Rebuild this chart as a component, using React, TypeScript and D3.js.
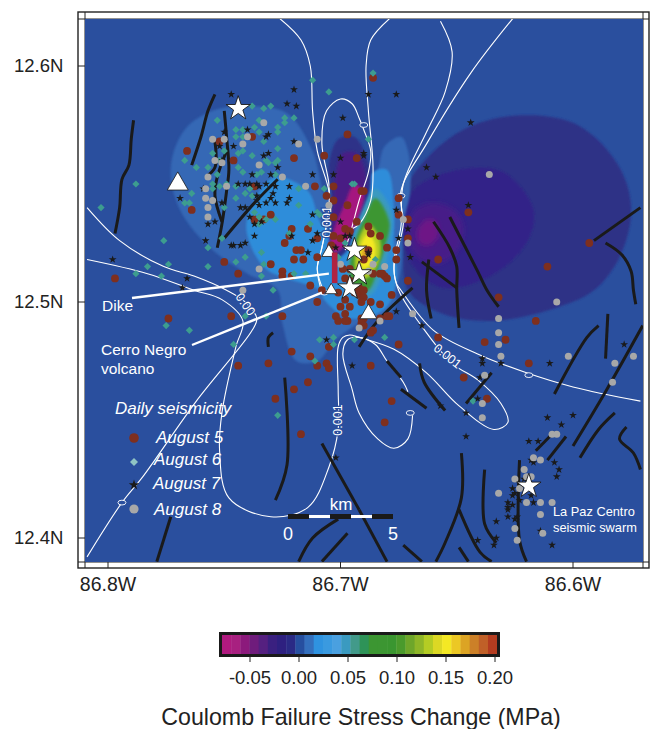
import React from "react";
import * as d3 from "d3";

// All map values are thousandths of a degree east of 86.8W (first) and south of 12.6N (second).
type P = number[];
const lonTicks = [86.8, 86.7, 86.6];
const latTicks = [12.6, 12.5, 12.4];
const barTicks = [-0.05, 0, 0.05, 0.1, 0.15, 0.2];
const barColors = ["#b01a7f","#a82080","#8c1a7c","#6f1c7c","#552080","#3a2080","#2e2080","#2a2a85","#264f9f","#3470bd","#2f93e0","#3a9ae0","#4aa0e0","#3a9ac0","#429a8a","#2e9358","#3c9632","#3c9632","#3a9630","#4a9a2c","#6ea62a","#8fb628","#b4cc24","#dcd824","#f4e824","#ecc824","#dca424","#cc8028","#c06028","#b43c20"];
const barMin = -0.0786, barStep = 0.00936;

const aug5: P[] = [[34,36],[62,30],[48,32],[54,40],[80,39],[93,38],[103,29],[107,39],[89,51],[97,51],[94,55],[97,57],[103,59],[36,61],[63,51],[63,65],[67,65],[70,63],[79,69],[86,69],[76,75],[81,78],[83,78],[80,82],[84,82],[90,81],[90,73],[97,64],[102,69],[107,66],[104,70],[50,83],[56,88],[70,84],[75,87],[75,89],[79,89],[87,93],[3,90],[96,76],[101,86],[104,86],[110,53],[112,68],[113,71],[117,72],[97,72],[100,73],[78,72],[120,77],[124,78],[124,82],[129,91],[117,88],[119,89],[120,90],[112,78],[110,82],[102,90],[104,91],[106,96],[108,97],[110,98],[113,100],[117,101],[99,96],[102,99],[100,102],[104,102],[109,100],[108,94],[110,95],[122,97],[121,106],[117,107],[110,107],[109,107],[109,109],[98,106],[99,108],[102,105],[103,108],[90,100],[92,95],[114,112],[125,63],[129,65],[114,5],[125,56],[129,73],[155,62],[142,82],[189,85],[207,75],[109,53],[118,88],[114,88],[26,107],[53,106],[75,106],[56,127],[79,121],[69,126],[87,123],[94,126],[90,127],[95,128],[86,134],[80,137],[72,141],[83,156],[102,108],[95,119],[168,98],[184,108],[162,117],[171,116],[181,126],[142,115],[125,118],[113,127],[113,113],[120,106],[153,132],[163,141],[122,142],[119,151],[110,110]];
const aug6: P[] = [[-3,60],[12,50],[24,74],[17,85],[12,88],[23,89],[26,84],[43,85],[43,77],[33,40],[38,43],[36,54],[33,58],[35,58],[47,23],[62,17],[67,18],[70,17],[65,23],[55,27],[58,27],[63,26],[65,28],[55,30],[58,30],[67,32],[73,26],[73,28],[76,22],[76,24],[80,22],[73,35],[45,37],[50,36],[48,40],[56,37],[58,36],[62,38],[68,40],[73,40],[69,41],[72,41],[43,43],[47,46],[56,43],[58,45],[66,45],[64,46],[72,46],[45,50],[51,50],[48,51],[45,52],[55,51],[61,52],[59,54],[62,55],[55,56],[50,60],[63,62],[65,64],[68,65],[72,65],[65,67],[82,52],[82,59],[91,63],[87,67],[78,71],[93,52],[88,6],[95,11],[106,50],[102,75],[49,73],[66,79],[59,81],[55,83],[67,84],[66,89],[71,95],[85,88],[80,88],[99,81],[114,3],[112,31],[25,110],[35,112],[59,106],[68,106],[54,118],[89,125],[91,116],[97,115],[97,118],[106,116],[73,148],[119,115],[157,142],[105,50],[115,82],[90,62]];
const aug7: P[] = [[53,12],[80,10],[77,16],[81,17],[101,22],[60,27],[69,29],[68,30],[50,28],[48,34],[54,34],[80,32],[69,37],[67,38],[49,40],[100,39],[73,43],[62,46],[88,46],[70,46],[97,46],[56,50],[59,50],[61,50],[64,50],[68,50],[72,51],[78,51],[65,51],[71,54],[64,55],[70,56],[78,56],[64,57],[68,58],[72,58],[77,58],[31,56],[41,52],[49,58],[57,60],[59,60],[65,59],[61,64],[88,63],[43,67],[46,66],[63,67],[66,66],[100,66],[79,72],[90,71],[42,74],[88,74],[102,72],[104,72],[63,72],[53,76],[54,76],[57,76],[59,75],[86,79],[98,77],[2,82],[34,90],[32,94],[110,38],[112,79],[112,12],[124,12],[156,24],[110,37],[137,43],[141,47],[155,59],[124,61],[129,69],[125,73],[130,81],[112,80],[94,116],[98,166],[105,127],[124,104],[135,110],[161,124],[161,126],[169,126],[190,126],[222,118],[160,132],[159,141],[154,147],[143,144],[154,157],[189,149],[195,152],[200,148],[181,159],[185,159],[182,167],[183,168],[192,168],[194,171],[193,174],[179,175],[174,179],[174,182],[175,181],[172,185],[174,186],[172,187],[172,188],[172,191],[176,191],[175,192],[177,184],[183,185],[167,193],[167,200],[159,201],[166,203],[186,197],[191,203],[182,182]];
const aug8: P[] = [[67,24],[60,30],[58,33],[50,31],[45,31],[82,33],[90,31],[46,40],[49,41],[65,42],[43,47],[51,51],[42,52],[42,56],[45,57],[43,60],[43,64],[75,47],[85,51],[95,59],[65,86],[58,95],[100,84],[127,65],[129,75],[119,85],[114,84],[112,87],[131,105],[117,108],[108,111],[164,46],[193,100],[168,107],[168,113],[168,118],[169,123],[162,131],[198,123],[218,126],[226,123],[217,134],[161,143],[161,149],[191,156],[193,156],[183,166],[186,167],[179,171],[175,175],[180,174],[182,174],[177,179],[168,181],[180,185],[186,185],[191,185],[186,190],[187,198],[175,196],[176,201],[176,212]];

const mainshocks: P[] = [[56,18],[106,78],[108,88],[104,94],[181,178]];
const volcanoes: { at: P; side: number }[] = [
  { at: [30, 50], side: 21 },
  { at: [95, 79], side: 14 },
  { at: [96, 95], side: 12 },
  { at: [112, 105], side: 17 },
];
const dike: P[] = [[97.5, 79], [97.5, 92]];

const faults: P[][] = [
  [[11,23],[10,31],[9,42],[6,48],[5,60],[3,71]],
  [[46,12],[43,19],[40,30],[36,42]],
  [[50,19],[51,30],[52,44],[51,53],[49,67],[47,77]],
  [[46,32],[46,43],[42,47]],
  [[51,36],[47,47],[46,55],[49,66]],
  [[73,48],[63,58],[50,73]],
  [[229,60],[209,74]],
  [[214,75],[221,80],[225,87],[226,95],[227,101]],
  [[140,66],[147,77],[150,85],[150,95],[151,111]],
  [[147,64],[159,87],[163,95],[168,102]],
  [[138,82],[137,95],[139,107]],
  [[135,83],[150,94]],
  [[131,94],[116,108],[108,119]],
  [[211,110],[206,115],[192,139]],
  [[215,105],[214,124]],
  [[230,110],[214,138],[200,161]],
  [[218,147],[211,154],[203,166]],
  [[223,153],[220,158],[226,164],[229,171]],
  [[165,130],[154,143]],
  [[192,155],[184,163]],
  [[197,157],[189,167]],
  [[177,167],[177,201],[180,210]],
  [[152,164],[152,183],[145,202],[141,210]],
  [[151,188],[160,206],[165,210]],
  [[162,171],[162,194],[167,202]],
  [[151,204],[155,210]],
  [[127,203],[135,210]],
  [[108,188],[120,210]],
  [[126,137],[137,145]],
  [[134,126],[136,134],[145,146]],
  [[120,125],[126,132]],
  [[71,113],[69,115],[69,119]],
  [[76,132],[77,169],[72,184]],
  [[92,160],[108,188]],
  [[27,191],[21,210]],
  [[99,192],[88,200],[82,210]],
  [[103,198],[92,210]],
];

const contourA: P[] = [[-9,60],[5,74],[24,85],[37,89],[51,95],[59,100],[64,107],[62,112],[38,142],[15,174],[6,185],[-9,208]];
const contourB: P[] = [[-9,82],[17,88],[37,95],[49,99],[58,108],[55,119],[49,147],[48,163],[52,183],[70,191],[86,187],[95,170],[99,154],[99,137],[99,119],[101,115],[104,114],[108,115],[123,120],[137,130],[151,144],[166,154],[172,151],[169,143],[159,133],[148,126],[134,109],[125,95],[123,86],[127,67],[126,53],[137,33],[156,3],[174,-20]];
const contourC: P[] = [[143,-19],[148,-6],[145,11],[137,28],[127,50],[126,68],[123,83],[124,92],[126,95],[140,112],[159,122],[180,130],[200,136],[229,142]];
const contourD: P[] = [[121,-20],[113,-11],[111,0],[112,19],[114,43],[113,57],[108,67],[105,69]];
const contourE: P[] = [[74,-20],[83,-11],[87,0],[88,19],[90,36],[95,53],[95,61],[92,77],[90,86],[93,96]];
const contourF: P[] = [[102,78],[105,68],[108,57],[112,45],[113,36],[110,27],[108,22],[105,16],[100,14],[94,19],[92,33],[95,50],[95,61],[92,77],[90,86],[92,96]];
const contourG: P[] = [[129,138],[127,134],[120,125],[115,118],[108,115],[103,116],[101,122],[105,137],[108,147],[116,158],[123,162],[129,158],[131,148]];
const contours = [contourA, contourB, contourC, contourD, contourE, contourF, contourG];
const contourRings: P[] = [[6,185],[110,25],[126,55],[181,131],[130,147],[93,96]];
const contourLabels: { at: P; text: string; angle: number }[] = [
  { at: [59, 101], text: "0.00", angle: 55 },
  { at: [94, 66], text: "0.001", angle: -90 },
  { at: [99, 150], text: "0.001", angle: -90 },
  { at: [146, 123], text: "0.001", angle: 38 },
];

const fieldLayers: { fill: string; blur: string; pts: P[] }[] = [
  { fill: "#2d3086", blur: "soft", pts: [[130,48],[151,28],[176,21],[202,25],[220,43],[225,61],[220,81],[209,95],[194,102],[166,108],[144,105],[129,95],[127,75],[126,61]] },
  { fill: "#332388", blur: "soft", pts: [[131,53],[151,44],[170,45],[183,61],[180,75],[166,88],[144,94],[130,83],[127,68]] },
  { fill: "#461f88", blur: "wide", pts: [[129,70],[132,61],[141,58],[150,62],[153,70],[149,80],[140,84],[132,80]] },
  { fill: "#6e1886", blur: "wide", pts: [[133,70],[137,65],[141,66],[142,72],[138,76],[134,75]] },
  { fill: "#3468b5", blur: "soft", pts: [[45,19],[61,17],[77,20],[88,36],[94,55],[100,46],[111,53],[116,44],[119,34],[126,30],[129,36],[130,53],[127,67],[126,86],[124,95],[123,103],[108,109],[98,116],[90,125],[81,125],[75,109],[73,95],[60,88],[45,78],[31,61],[27,43],[33,27]] },
  { fill: "#2e8dda", blur: "soft", pts: [[60,64],[66,52],[72,47],[86,53],[92,67],[100,70],[108,60],[114,45],[120,44],[123,60],[123,74],[124,91],[119,103],[104,107],[93,99],[91,95],[68,86],[60,72]] },
  { fill: "#2d3288", blur: "soft", pts: [[99,31],[106,30],[112,41],[113,49],[111,60],[106,70],[103,78],[97,82],[95,70],[96,56],[95,42]] },
  { fill: "#4a1f84", blur: "mid", pts: [[101,37],[107,37],[111,47],[110,57],[105,69],[99,76],[96,72],[97,56],[98,45]] },
  { fill: "#a5187f", blur: "mid", pts: [[106,50],[110,54],[107,66],[100,78],[95,79],[97,70],[102,58]] },
  { fill: "#3a9ac0", blur: "mid", pts: [[115,52],[122,62],[121,76],[118,88],[113,97],[105,97],[103,87],[105,74],[109,62]] },
  { fill: "#3c9632", blur: "mid", pts: [[115,56],[121,66],[119,77],[116,86],[112,95],[106,95],[104,87],[106,75],[110,65]] },
  { fill: "#b4cc24", blur: "mid", pts: [[112,67],[117,74],[116,84],[111,90],[107,88],[107,76]] },
  { fill: "#f4e824", blur: "mid", pts: [[112,71],[115,76],[114,83],[110,86],[108,82],[109,75]] },
  { fill: "#dca424", blur: "tiny", pts: [[111,76],[113,79],[111,83],[109,80]] },
];

const legendRows = ["August 5", "August 6", "August 7", "August 8"];
const legendX = [156, 154, 153, 154];
const legendY = [443, 465, 489, 515];
const scaleKm = [0, 1, 2, 3, 4];

const x = d3.scaleLinear().domain([0, 200]).range([108, 573]);
const y = d3.scaleLinear().domain([0, 200]).range([66, 538]);
const barX = d3.scaleLinear().domain([-0.05, 0.2]).range([250, 495]);
const kmX = d3.scaleLinear().domain([0, 5]).range([288, 393]);

const closed = d3.line<P>().x(d => x(d[0])).y(d => y(d[1])).curve(d3.curveCatmullRomClosed.alpha(0.5));
const open = d3.line<P>().x(d => x(d[0])).y(d => y(d[1])).curve(d3.curveCatmullRom.alpha(0.5));

const star = (size: number) => d3.symbol().type(d3.symbolStar).size(size)() as string;
const square = (size: number) => d3.symbol().type(d3.symbolSquare).size(size)() as string;
const triangle = (side: number) => d3.symbol().type(d3.symbolTriangle).size((Math.sqrt(3) / 4) * side * side)() as string;

const FONT = "'Liberation Sans', Arial, Helvetica, sans-serif";
const BROWN = "#7e2f1e", GREEN = "#3d9d8f", GRAY = "#a8a8a8", INK = "#1a1a1a", BG = "#2a4f9e";

export default function App() {
  return (
    <svg width={652} height={729} viewBox="0 0 652 729" fontFamily={FONT}
      style={{ position: "absolute", left: 0, top: 0, background: "#fff" }}>
      <defs>
        <clipPath id="map"><rect x={85} y={19} width={558} height={543} /></clipPath>
        <filter id="tiny" x="-50%" y="-50%" width="200%" height="200%"><feGaussianBlur stdDeviation={0.8} /></filter>
        <filter id="soft" x="-20%" y="-20%" width="140%" height="140%"><feGaussianBlur stdDeviation={1.2} /></filter>
        <filter id="mid" x="-50%" y="-50%" width="200%" height="200%"><feGaussianBlur stdDeviation={1.6} /></filter>
        <filter id="wide" x="-50%" y="-50%" width="200%" height="200%"><feGaussianBlur stdDeviation={2.4} /></filter>
      </defs>

      {/* frame */}
      <rect x={78} y={12} width={571} height={556} fill="#fff" stroke="#222" strokeWidth={1.4} />
      <line x1={85} x2={85} y1={12} y2={568} stroke="#222" strokeWidth={1} />
      <line x1={643} x2={643} y1={12} y2={568} stroke="#222" strokeWidth={1} />
      <line x1={78} x2={649} y1={19} y2={19} stroke="#222" strokeWidth={1} />
      <line x1={78} x2={649} y1={562} y2={562} stroke="#222" strokeWidth={1} />
      {lonTicks.map(l => {
        const px = x((86.8 - l) * 1000);
        return <g key={l}>
          <line x1={px} x2={px} y1={562} y2={568} stroke="#222" strokeWidth={1} />
          <text x={px} y={591} textAnchor="middle" fontSize={19.5} fill="#222">{l.toFixed(1)}W</text>
        </g>;
      })}
      {latTicks.map(l => {
        const py = y((12.6 - l) * 1000);
        return <g key={l}>
          <line x1={78} x2={85} y1={py} y2={py} stroke="#222" strokeWidth={1} />
          <text x={14} y={py + 6} fontSize={18.5} fill="#222">{l.toFixed(1)}N</text>
        </g>;
      })}

      <g clipPath="url(#map)">
        <rect x={85} y={19} width={558} height={543} fill={BG} />
        {fieldLayers.map((f, i) => (
          <path key={i} d={closed(f.pts) as string} fill={f.fill} filter={`url(#${f.blur})`} />
        ))}
        {contours.map((c, i) => (
          <path key={i} d={open(c) as string} fill="none" stroke="#fff" strokeWidth={1.1} />
        ))}
        {contourRings.map((r, i) => (
          <ellipse key={i} cx={x(r[0])} cy={y(r[1])} rx={4} ry={2.4} fill={BG} stroke="#fff" strokeWidth={0.9} />
        ))}
        {contourLabels.map((l, i) => (
          <text key={i} textAnchor="middle" dominantBaseline="central" fontSize={12.5} fill="#fff"
            transform={`translate(${x(l.at[0])},${y(l.at[1])}) rotate(${l.angle})`}
            stroke={BG} strokeWidth={2.5} paintOrder="stroke">{l.text}</text>
        ))}
        {faults.map((f, i) => (
          <path key={i} d={open(f) as string} fill="none" stroke={INK} strokeWidth={3} strokeLinecap="butt" strokeLinejoin="round" />
        ))}
        {aug5.map((d, i) => <circle key={i} cx={x(d[0])} cy={y(d[1])} r={3.9} fill={BROWN} />)}
        {aug6.map((d, i) => (
          <path key={i} d={square(26)} fill={GREEN} transform={`translate(${x(d[0])},${y(d[1])}) rotate(45)`} />
        ))}
        {aug7.map((d, i) => (
          <path key={i} d={star(19)} fill={INK} transform={`translate(${x(d[0])},${y(d[1])})`} />
        ))}
        {aug8.map((d, i) => <circle key={i} cx={x(d[0])} cy={y(d[1])} r={3.5} fill={GRAY} />)}

        {/* annotation leaders */}
        <line x1={132} y1={298} x2={x(95)} y2={y(88)} stroke="#fff" strokeWidth={2.4} />
        <line x1={192} y1={345} x2={x(92)} y2={y(96)} stroke="#fff" strokeWidth={2.4} />

        {volcanoes.map((v, i) => (
          <path key={i} d={triangle(v.side)} fill="#fff" stroke={INK} strokeWidth={0.8}
            transform={`translate(${x(v.at[0])},${y(v.at[1])})`} />
        ))}
        <path d={open(dike) as string} stroke="#b02342" strokeWidth={5.6} fill="none" />
        {mainshocks.map((d, i) => (
          <path key={i} d={star(185)} fill="#fff" stroke={INK} strokeWidth={0.9}
            transform={`translate(${x(d[0])},${y(d[1])})`} />
        ))}

        {/* scale bar */}
        {scaleKm.map(k => (
          <rect key={k} x={kmX(k)} y={k % 2 ? 515 : 514} width={kmX(1) - kmX(0)} height={k % 2 ? 3 : 5}
            fill={k % 2 ? "#fff" : INK} />
        ))}
      </g>

      <g fill="#fff">
        <text x={341} y={510} textAnchor="middle" fontSize={17}>km</text>
        <text x={kmX(0)} y={540} textAnchor="middle" fontSize={18}>0</text>
        <text x={kmX(5)} y={540} textAnchor="middle" fontSize={18}>5</text>
        <text x={102} y={311} fontSize={15.5}>Dike</text>
        <text x={101} y={355} fontSize={15.5}>Cerro Negro</text>
        <text x={101} y={374} fontSize={15.5}>volcano</text>
        <text x={553} y={516} fontSize={12.8}>La Paz Centro</text>
        <text x={553} y={532} fontSize={12.8}>seismic swarm</text>
        <text x={115} y={414} fontSize={17} fontStyle="italic">Daily seismicity</text>
        {legendRows.map((t, i) => (
          <text key={t} x={legendX[i]} y={legendY[i]} fontSize={17} fontStyle="italic">{t}</text>
        ))}
      </g>
      <circle cx={134} cy={438} r={4.8} fill={BROWN} />
      <path d={square(32)} fill="#8fc4c4" transform="translate(134,462) rotate(45)" />
      <path d={star(34)} fill={INK} transform="translate(134,485)" />
      <circle cx={134} cy={509} r={4.6} fill={GRAY} />

      {/* colour bar */}
      {barColors.map((c, i) => (
        <rect key={i} x={barX(barMin + i * barStep)} y={635} width={barX(barStep) - barX(0) + 0.4} height={19} fill={c} />
      ))}
      <rect x={220.5} y={633.5} width={278} height={22} fill="none" stroke={INK} strokeWidth={3} />
      {barTicks.map(t => (
        <g key={t}>
          <line x1={barX(t)} x2={barX(t)} y1={656} y2={662} stroke="#222" strokeWidth={1} />
          <text x={barX(t)} y={684} textAnchor="middle" fontSize={18.5} fill="#222">{t.toFixed(2)}</text>
        </g>
      ))}
      <text x={361} y={725} textAnchor="middle" fontSize={23.2} fill="#222">Coulomb Failure Stress Change (MPa)</text>
    </svg>
  );
}
